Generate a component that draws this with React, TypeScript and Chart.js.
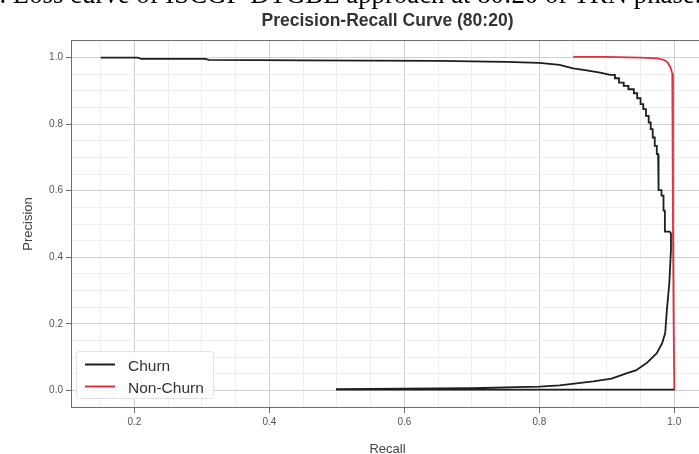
import React, { useEffect, useRef } from 'react';
import { Chart, registerables } from 'chart.js';

Chart.register(...registerables);

// ---- data ----
const churnRecall = [
  0.15, 0.205, 0.21, 0.305, 0.31, 0.45, 0.55, 0.65, 0.7, 0.75, 0.8, 0.83, 0.85, 0.87, 0.89,
  0.905, 0.912, 0.912, 0.918, 0.918, 0.925, 0.925, 0.932, 0.932, 0.94, 0.94, 0.945, 0.945,
  0.95, 0.95, 0.954, 0.954, 0.958, 0.958, 0.962, 0.962, 0.965, 0.965, 0.968, 0.968, 0.971,
  0.971, 0.974, 0.974, 0.976, 0.976, 0.977, 0.977, 0.981, 0.981, 0.984, 0.984, 0.986, 0.986,
  0.993,
  0.995, 0.995, 0.9926, 0.989, 0.9865, 0.982, 0.974, 0.959, 0.943, 0.93, 0.907, 0.88, 0.83,
  0.8, 0.7, 0.6, 0.5, 0.5, 0.7, 0.9, 1.0,
];
const churnPrecision = [
  1.0, 1.0, 0.996, 0.996, 0.993, 0.992, 0.991, 0.99, 0.989, 0.987, 0.984, 0.978, 0.968, 0.962, 0.955,
  0.948, 0.948, 0.938, 0.938, 0.925, 0.925, 0.915, 0.915, 0.905, 0.905, 0.893, 0.893, 0.878,
  0.878, 0.86, 0.86, 0.845, 0.845, 0.825, 0.825, 0.805, 0.805, 0.785, 0.785, 0.76, 0.76,
  0.735, 0.735, 0.71, 0.71, 0.672, 0.672, 0.602, 0.602, 0.585, 0.585, 0.54, 0.54, 0.477,
  0.477,
  0.472, 0.422, 0.322, 0.242, 0.172, 0.142, 0.112, 0.082, 0.06, 0.052, 0.035, 0.027, 0.015,
  0.011, 0.007, 0.005, 0.004, 0.002, 0.002, 0.002, 0.002,
];
const nonChurnRecall = [0.85, 0.9, 0.95, 0.975, 0.985, 0.99, 0.994, 0.997, 0.998, 0.998, 0.999, 1.0];
const nonChurnPrecision = [1.002, 1.002, 1.0, 0.998, 0.993, 0.986, 0.972, 0.952, 0.92, 0.5, 0.2, 0.0];

const seriesNames = ['Churn', 'Non-Churn'];
const seriesColors = ['#1e1e1e', '#e0303f'];
const xMajorTicks = [0.2, 0.4, 0.6, 0.8, 1.0];
const yMajorTicks = [0.0, 0.2, 0.4, 0.6, 0.8, 1.0];
const minorStep = 0.05;
const xRange = [0.1075, 1.0425];
const yRange = [-0.05, 1.05];
const titleText = 'Precision-Recall Curve (80:20)';
const xLabel = 'Recall';
const yLabel = 'Precision';
const captionText = '7. Loss curve of ISCGP-DTGBE approach at 80:20 of TRN phase.';

const FONT = '"Liberation Sans", Arial, sans-serif';

function isMajorOf(majors: number[], v: number) {
  return majors.some((m) => Math.abs(m - v) < 1e-6);
}

function buildTicks(min: number, max: number) {
  const out: { value: number }[] = [];
  for (let i = Math.ceil(min / minorStep - 1e-9); i * minorStep <= max + 1e-9; i++) {
    const v = Math.round(i * minorStep * 1000) / 1000;
    if (v > min + 1e-6 && v < max - 1e-6) out.push({ value: v });
  }
  return out;
}

const overlayPlugin = {
  id: 'overlay',
  afterDatasetsDraw(chart: any) {
    const { ctx, chartArea } = chart;
    ctx.save();
    ctx.strokeStyle = '#6e6e6e';
    ctx.lineWidth = 1;
    ctx.strokeRect(
      Math.round(chartArea.left) - 0.5,
      Math.round(chartArea.top) - 0.5,
      Math.round(chartArea.right - chartArea.left) + 1,
      Math.round(chartArea.bottom - chartArea.top) + 1
    );
    ctx.restore();
  },
  afterDraw(chart: any) {
    const { ctx, chartArea } = chart;
    const cx = (chartArea.left + chartArea.right) / 2;
    const cy = (chartArea.top + chartArea.bottom) / 2;
    ctx.save();
    // title
    ctx.fillStyle = '#333333';
    ctx.font = `bold 17.5px ${FONT}`;
    ctx.textAlign = 'center';
    ctx.textBaseline = 'alphabetic';
    ctx.fillText(titleText, cx, 25.5);
    // axis titles
    ctx.fillStyle = '#444444';
    ctx.font = `13px ${FONT}`;
    ctx.fillText(xLabel, cx, 453);
    ctx.save();
    ctx.translate(32, cy);
    ctx.rotate(-Math.PI / 2);
    ctx.fillText(yLabel, 0, 0);
    ctx.restore();
    // legend
    const bx = 76.5, by = 351.5, bw = 137, bh = 47;
    ctx.beginPath();
    const r = 3;
    ctx.moveTo(bx + r, by);
    ctx.lineTo(bx + bw - r, by);
    ctx.quadraticCurveTo(bx + bw, by, bx + bw, by + r);
    ctx.lineTo(bx + bw, by + bh - r);
    ctx.quadraticCurveTo(bx + bw, by + bh, bx + bw - r, by + bh);
    ctx.lineTo(bx + r, by + bh);
    ctx.quadraticCurveTo(bx, by + bh, bx, by + bh - r);
    ctx.lineTo(bx, by + r);
    ctx.quadraticCurveTo(bx, by, bx + r, by);
    ctx.closePath();
    ctx.fillStyle = 'rgba(255,255,255,0.85)';
    ctx.fill();
    ctx.strokeStyle = '#e2e2e2';
    ctx.lineWidth = 1;
    ctx.stroke();
    const rows = [364.5, 386.5];
    seriesNames.forEach((name, i) => {
      const y = rows[i];
      ctx.beginPath();
      ctx.moveTo(85, y);
      ctx.lineTo(115, y);
      ctx.strokeStyle = seriesColors[i];
      ctx.lineWidth = 2;
      ctx.stroke();
      ctx.fillStyle = '#333333';
      ctx.font = `15.5px ${FONT}`;
      ctx.textAlign = 'left';
      ctx.textBaseline = 'alphabetic';
      ctx.fillText(name, 128, y + 6);
    });
    ctx.restore();
  },
};

export default function App() {
  const ref = useRef<HTMLCanvasElement | null>(null);

  useEffect(() => {
    if (!ref.current) return;
    const churnData = churnRecall.map((x, i) => ({ x, y: churnPrecision[i] }));
    const nonChurnData = nonChurnRecall.map((x, i) => ({ x, y: nonChurnPrecision[i] }));

    const gridColor = (majors: number[]) => (c: any) =>
      c.tick && isMajorOf(majors, c.tick.value) ? '#cfcfcf' : '#eeeeee';
    const tickColor = (majors: number[]) => (c: any) =>
      c.tick && isMajorOf(majors, c.tick.value) ? '#6e6e6e' : 'rgba(0,0,0,0)';

    const chart = new Chart(ref.current, {
      type: 'line',
      data: {
        datasets: [
          {
            label: seriesNames[0],
            data: churnData,
            borderColor: seriesColors[0],
            backgroundColor: seriesColors[0],
            borderWidth: 1.8,
            pointRadius: 0,
            tension: 0,
            fill: false,
            order: 1,
          },
          {
            label: seriesNames[1],
            data: nonChurnData,
            borderColor: seriesColors[1],
            backgroundColor: seriesColors[1],
            borderWidth: 1.8,
            pointRadius: 0,
            tension: 0,
            fill: false,
            order: 2,
          },
        ],
      },
      options: {
        responsive: false,
        animation: false,
        devicePixelRatio: 1,
        layout: { padding: { top: 41, right: 0, left: 0, bottom: 0 } },
        plugins: {
          legend: { display: false },
          tooltip: { enabled: false },
          title: { display: false },
        },
        scales: {
          x: {
            type: 'linear',
            min: xRange[0],
            max: xRange[1],
            afterBuildTicks: (s: any) => {
              s.ticks = buildTicks(xRange[0], xRange[1]);
            },
            afterFit: (s: any) => {
              s.height = 47;
            },
            ticks: {
              autoSkip: false,
              maxRotation: 0,
              padding: 3,
              color: '#555555',
              font: { family: FONT, size: 10 },
              callback: (v: any) => (isMajorOf(xMajorTicks, Number(v)) ? Number(v).toFixed(1) : ''),
            },
            grid: {
              color: gridColor(xMajorTicks),
              tickColor: tickColor(xMajorTicks),
              tickLength: 6,
              lineWidth: 1,
            },
            border: { display: false },
          },
          y: {
            type: 'linear',
            min: yRange[0],
            max: yRange[1],
            afterBuildTicks: (s: any) => {
              s.ticks = buildTicks(yRange[0], yRange[1]);
            },
            afterFit: (s: any) => {
              s.width = 72;
            },
            ticks: {
              autoSkip: false,
              padding: 3,
              color: '#555555',
              font: { family: FONT, size: 10 },
              callback: (v: any) => (isMajorOf(yMajorTicks, Number(v)) ? Number(v).toFixed(1) : ''),
            },
            grid: {
              color: gridColor(yMajorTicks),
              tickColor: tickColor(yMajorTicks),
              tickLength: 6,
              lineWidth: 1,
            },
            border: { display: false },
          },
        },
      },
      plugins: [overlayPlugin],
    } as any);
    return () => chart.destroy();
  }, []);

  return (
    <div
      style={{
        position: 'fixed',
        left: 0,
        top: 0,
        width: 699,
        height: 454,
        overflow: 'hidden',
        background: '#ffffff',
      }}
    >
      <div
        style={{
          position: 'absolute',
          left: -14,
          top: -19,
          whiteSpace: 'nowrap',
          fontFamily: '"Liberation Serif", "Times New Roman", serif',
          fontSize: 26.8,
          lineHeight: '26px',
          color: '#000',
        }}
      >
        {captionText}
      </div>
      <canvas ref={ref} width={703} height={454} style={{ display: 'block', width: 703, height: 454 }} />
    </div>
  );
}
